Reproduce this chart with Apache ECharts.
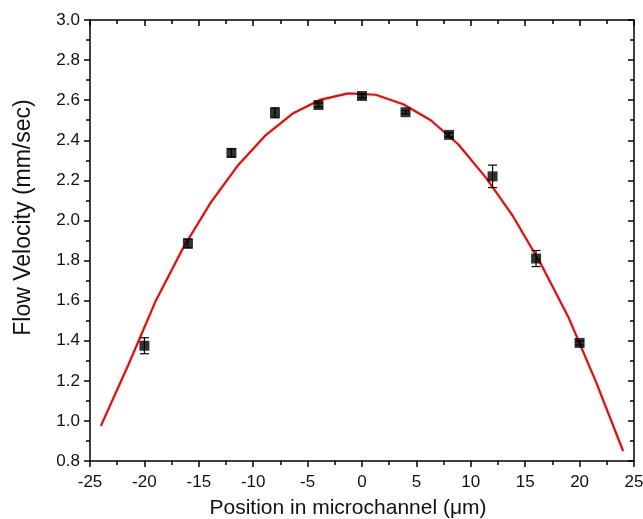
<!DOCTYPE html>
<html>
<head>
<meta charset="utf-8">
<script src="https://cdn.jsdelivr.net/npm/echarts@6/dist/echarts.min.js"></script>
<style>html,body{margin:0;padding:0;background:#fff}#c{width:643px;height:519px}</style>
</head>
<body>
<div id="c"></div>
<script>
const pointX = [-20, -16, -12, -8, -4, 0, 4, 8, 12, 16, 20];
const pointY = [1.375, 1.885, 2.337, 2.537, 2.576, 2.621, 2.540, 2.427, 2.220, 1.810, 1.389];
const pointErr = [0.04, 0.022, 0.02, 0.025, 0.01, 0.01, 0.008, 0.01, 0.056, 0.04, 0.01];
const fitX = [-24, -21.47, -18.95, -16.42, -13.89, -11.37, -8.84, -6.32, -3.79, -1.26, 1.26, 3.79, 6.32, 8.84, 11.37, 13.89, 16.42, 18.95, 21.47, 24];
const fitY = [0.975, 1.28, 1.60, 1.865, 2.09, 2.277, 2.426, 2.535, 2.603, 2.634, 2.627, 2.58, 2.50, 2.38, 2.215, 2.02, 1.785, 1.52, 1.20, 0.85];
const xTicks = [-25, -20, -15, -10, -5, 0, 5, 10, 15, 20, 25];
const yTicks = [0.8, 1.0, 1.2, 1.4, 1.6, 1.8, 2.0, 2.2, 2.4, 2.6, 2.8, 3.0];

const font = 'Liberation Sans, Arial, sans-serif';
const chart = echarts.init(document.getElementById('c'), null, {renderer: 'canvas'});
const axisLine = {show: true, onZero: false, lineStyle: {color: '#000', width: 1.5}};
const xBase = {type: 'value', min: xTicks[0], max: xTicks[xTicks.length - 1], interval: 5, splitLine: {show: false}, axisLine: axisLine};
const yBase = {type: 'value', min: yTicks[0], max: yTicks[yTicks.length - 1], interval: 0.2, splitLine: {show: false}, axisLine: axisLine};

chart.setOption({
  animation: false,
  backgroundColor: '#fff',
  grid: {left: 90, right: 9, top: 20, bottom: 58, containLabel: false, outerBoundsMode: 'none'},
  xAxis: [
    Object.assign({}, xBase, {
      position: 'bottom',
      name: 'Position in microchannel (\u03bcm)', nameLocation: 'middle', nameGap: 37,
      nameTextStyle: {fontFamily: font, fontSize: 21, color: '#111', padding: [0, 28, 0, 0]},
      axisTick: {show: true, inside: false, length: 6, lineStyle: {color: '#000', width: 1.5}},
      minorTick: {show: true, splitNumber: 2, length: 4, lineStyle: {color: '#000', width: 1.5}},
      axisLabel: {fontFamily: font, fontSize: 17, color: '#111', margin: 13}
    }),
    Object.assign({}, xBase, {
      position: 'top',
      axisTick: {show: true, inside: true, length: 6, lineStyle: {color: '#000', width: 1.5}},
      minorTick: {show: true, splitNumber: 2, length: 4, lineStyle: {color: '#000', width: 1.5}},
      axisLabel: {show: false}
    })
  ],
  yAxis: [
    Object.assign({}, yBase, {
      position: 'left',
      name: 'Flow Velocity (mm/sec)', nameLocation: 'middle', nameGap: 55,
      nameTextStyle: {fontFamily: font, fontSize: 23, color: '#111', padding: [0, 0, 0, 46]},
      axisTick: {show: true, inside: false, length: 6, lineStyle: {color: '#000', width: 1.5}},
      minorTick: {show: true, splitNumber: 2, length: 4, lineStyle: {color: '#000', width: 1.5}},
      axisLabel: {fontFamily: font, fontSize: 17, color: '#111', margin: 10, formatter: v => v.toFixed(1)}
    }),
    Object.assign({}, yBase, {
      position: 'right',
      axisTick: {show: true, inside: true, length: 6, lineStyle: {color: '#000', width: 1.5}},
      minorTick: {show: true, splitNumber: 2, length: 4, lineStyle: {color: '#000', width: 1.5}},
      axisLabel: {show: false}
    })
  ],
  series: [
    {
      type: 'line', xAxisIndex: 0, yAxisIndex: 0,
      data: fitX.map((x, i) => [x, fitY[i]]),
      showSymbol: false, symbol: 'none',
      lineStyle: {color: '#ff0000', width: 2.2}, z: 2
    },
    {
      type: 'custom', xAxisIndex: 0, yAxisIndex: 0,
      data: pointX.map((x, i) => [x, pointY[i] - pointErr[i], pointY[i] + pointErr[i]]),
      renderItem: function (params, api) {
        const lo = api.coord([api.value(0), api.value(1)]);
        const hi = api.coord([api.value(0), api.value(2)]);
        const w = 4.5;
        const st = {stroke: '#000', lineWidth: 1.2};
        return {type: 'group', children: [
          {type: 'line', shape: {x1: lo[0], y1: lo[1], x2: hi[0], y2: hi[1]}, style: st},
          {type: 'line', shape: {x1: lo[0] - w, y1: lo[1], x2: lo[0] + w, y2: lo[1]}, style: st},
          {type: 'line', shape: {x1: hi[0] - w, y1: hi[1], x2: hi[0] + w, y2: hi[1]}, style: st}
        ]};
      },
      z: 3
    },
    {
      type: 'scatter', xAxisIndex: 0, yAxisIndex: 0,
      data: pointX.map((x, i) => [x, pointY[i]]),
      symbol: 'rect', symbolSize: 10,
      itemStyle: {color: '#000'}, z: 4
    }
  ]
});
</script>
</body>
</html>
